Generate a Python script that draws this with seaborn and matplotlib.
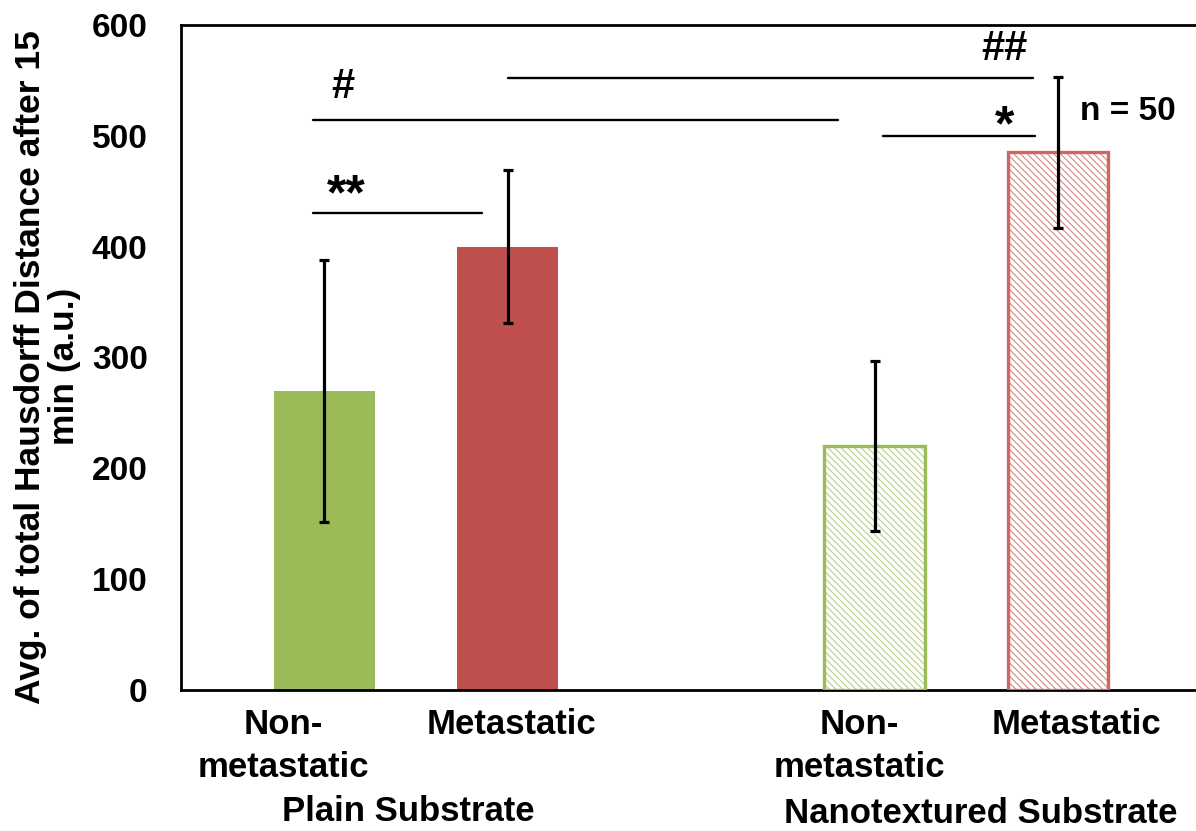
import numpy as np
import pandas as pd
import matplotlib
matplotlib.use("Agg")
import matplotlib.pyplot as plt
import matplotlib.transforms as mtransforms
from matplotlib.patches import Rectangle
import seaborn as sns

# ---------------- data ----------------
substrates = ["Plain Substrate", "Plain Substrate",
              "Nanotextured Substrate", "Nanotextured Substrate"]
cell_types = ["Non-\nmetastatic", "Metastatic", "Non-\nmetastatic", "Metastatic"]
means = [270, 400, 220, 485]
errors = [118, 69, 77, 68]
y_ticks = [0, 100, 200, 300, 400, 500, 600]
group_labels = ["Plain Substrate", "Nanotextured Substrate"]

# significance brackets
sig_labels = ["**", "#", "##", "*"]
sig_levels = [430, 514, 552, 500]
sig_label_levels = [434, 534, 568, 496]
n_label = "n = 50"
n_level = 522

# ---------------- style ----------------
sns.set_theme(style="white")
plt.rcParams["font.family"] = ["Liberation Sans", "DejaVu Sans"]
plt.rcParams["font.weight"] = "bold"
plt.rcParams["text.color"] = "black"
plt.rcParams["axes.labelcolor"] = "black"
plt.rcParams["xtick.color"] = "black"
plt.rcParams["ytick.color"] = "black"
plt.rcParams["hatch.linewidth"] = 0.8

green = "#9BBB59"
red = "#C0504D"
green_hatch = "#B9CF8C"
red_hatch = "#D58986"
red_edge = "#D06563"

keys = [f"{s}|{c}" for s, c in zip(substrates, cell_types)]
order = keys[:2] + ["gap"] + keys[2:]
df = pd.DataFrame({"key": keys, "mean": means, "err": errors,
                   "substrate": substrates, "cell": cell_types})
palette = dict(zip(keys, [green, red, green, red]))

fig, ax = plt.subplots(figsize=(11.96, 8.31), dpi=100)
fig.subplots_adjust(left=0.1513, right=1.0, top=0.970, bottom=0.1697)

sns.barplot(data=df, x="key", y="mean", order=order, hue="key",
            hue_order=keys, palette=palette, width=0.55, saturation=1,
            errorbar=None, legend=False, ax=ax, linewidth=0)

# hatched style for nanotextured bars
bars = sorted([p for p in ax.patches if p.get_height() > 0], key=lambda p: p.get_x())
for bar, sub, col in zip(bars, substrates, [green, red, green, red]):
    if sub.startswith("Nano"):
        hcol = green_hatch if col == green else red_hatch
        ecol = green if col == green else red_edge
        bar.set_facecolor("white")
        bar.set_edgecolor(hcol)
        bar.set_hatch("\\" * 5)
        bar.set_linewidth(0)
        ax.add_patch(Rectangle(bar.get_xy(), bar.get_width(), bar.get_height(),
                               fill=False, edgecolor=ecol, linewidth=2.4, zorder=3))

xpos = [order.index(k) for k in keys]
ax.errorbar(xpos, means, yerr=errors, fmt="none", ecolor="black",
            elinewidth=2.3, capsize=3.5, capthick=2.3, zorder=5)

# axes
ax.set_xlim(-0.78, 4.752)
ax.set_ylim(0, 600)
ax.set_yticks(y_ticks)
ax.set_yticklabels([str(t) for t in y_ticks], fontsize=24, fontweight="bold")
ax.tick_params(axis="y", length=0, pad=24)
ax.set_xticks(range(len(order)))
ax.set_xticklabels([cell_types[0], cell_types[1], "", cell_types[2], cell_types[3]],
                   fontsize=25, fontweight="bold", linespacing=1.4)
ax.tick_params(axis="x", length=0, pad=13)
offsets_px = [-41, 4, 0, -15, 18]
for lbl, dx in zip(ax.get_xticklabels(), offsets_px):
    lbl.set_transform(lbl.get_transform() +
                      mtransforms.ScaledTranslation(dx / 100, 0, fig.dpi_scale_trans))
ax.set_xlabel("")
ax.set_ylabel("Avg. of total Hausdorff Distance after 15\nmin (a.u.)", fontsize=25.5,
              fontweight="bold", linespacing=1.05)
ax.yaxis.set_label_coords(-0.0985, 0.486)

for side in ["left", "bottom", "top"]:
    ax.spines[side].set_visible(True)
    ax.spines[side].set_color("black")
    ax.spines[side].set_linewidth(2.0)
ax.spines["right"].set_visible(False)

# group labels under axis
trans = mtransforms.blended_transform_factory(ax.transData, ax.transAxes)
ax.text(0.458, -0.197, group_labels[0], transform=trans, ha="center", va="baseline",
        fontsize=25, fontweight="bold")
ax.text(3.58, -0.200, group_labels[1], transform=trans, ha="center", va="baseline",
        fontsize=25, fontweight="bold")

# significance annotations
sig_x = [(-0.06, 0.861), (-0.06, 2.80), (1.003, 3.864), (3.046, 3.875)]
sig_text_x = [0.123, 0.10, 3.71, 3.71]
sig_sizes = [36, 30, 30, 36]
for lab, lev, tlev, (x0, x1), tx, fs in zip(sig_labels, sig_levels, sig_label_levels,
                                            sig_x, sig_text_x, sig_sizes):
    ax.plot([x0, x1], [lev, lev], color="black", lw=1.7, zorder=4)
    ax.text(tx, tlev, lab, ha="center", va="baseline", fontsize=fs, fontweight="bold")
ax.text(4.12, n_level, n_label, ha="left", va="center", fontsize=24, fontweight="bold")

fig.savefig("out.png", dpi=100)
